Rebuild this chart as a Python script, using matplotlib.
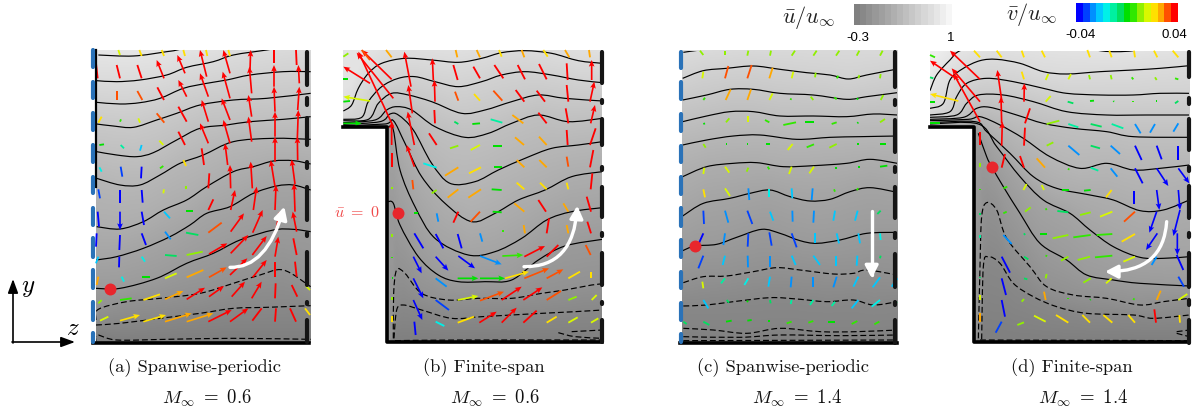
import numpy as np
import matplotlib
matplotlib.use("Agg")
import matplotlib.pyplot as plt
from matplotlib.colors import ListedColormap, LinearSegmentedColormap, Normalize
from matplotlib.cm import ScalarMappable
from matplotlib.patches import FancyArrowPatch, PathPatch, Rectangle
from matplotlib.path import Path

W, H = 1193, 412
plt.rcParams['mathtext.fontset'] = 'cm'

# every panel is read in its own coordinates: 3 units = 1 image pixel
crop_a = (0, 30, 320, 382)
crop_b = (325, 30, 300, 382)
crop_c = (640, 0, 280, 412)
crop_d = (900, 0, 293, 412)

# u contours, top to bottom
levels_a = [0.8, 0.7, 0.6, 0.5, 0.4, 0.3, 0.2, 0.1, 0.0, -0.1, -0.2, -0.3]
lines_a = [
    [(295,75),(400,78),(500,65),(540,58),(700,20),(932,0)],
    [(290,152),(350,155),(420,150),(500,135),(560,112),(640,95),(700,75),(800,60),(830,55),(932,40)],
    [(290,217),(360,222),(420,218),(480,205),(550,175),(620,160),(680,150),(750,135),(850,125),(932,125)],
    [(290,282),(340,288),(400,292),(470,270),(530,250),(600,225),(700,210),(800,205),(932,190)],
    [(290,365),(350,375),(410,380),(460,368),(530,330),(600,295),(680,285),(750,275),(850,268),(932,260)],
    [(290,445),(360,465),(420,465),(480,435),(540,400),(610,375),(700,335),(820,325),(932,328)],
    [(290,590),(360,597),(430,575),(490,540),(560,510),(620,470),(700,425),(760,410),(820,393),(880,392),(932,402)],
    [(288,690),(350,680),(430,655),(510,620),(570,585),(620,550),(690,530),(760,490),(830,468),(880,465),(932,480)],
    [(288,775),(360,775),(470,745),(560,700),(640,670),(720,630),(820,600),(880,598),(932,605)],
    [(288,870),(295,838),(380,815),(480,805),(600,790),(700,760),(780,735),(850,720),(932,770)],
    [(288,885),(360,880),(480,865),(600,850),(700,835),(800,832),(932,827)],
    [(288,935),(292,915),(350,930),(500,928),(700,925),(932,928)],
]
levels_b = [0.7, 0.6, 0.5, 0.4, 0.3, 0.2, 0.1, 0.0, -0.1, -0.2, -0.3]
lines_b = [
    [(55,243),(80,225),(100,175),(130,130),(170,100),(240,85),(320,90),(400,97),(470,85),(530,68),(600,62),(680,70),(760,92),(832,100)],
    [(55,268),(110,262),(130,215),(170,170),(220,145),(270,140),(330,155),(400,170),(470,155),(530,135),(600,125),(680,135),(760,150),(832,158)],
    [(55,272),(130,268),(160,220),(200,190),(250,195),(320,215),(410,250),(480,240),(560,215),(640,195),(720,205),(832,213)],
    [(55,278),(150,270),(185,240),(215,230),(260,240),(330,290),(420,322),(490,310),(560,280),(640,255),(730,275),(832,265)],
    [(55,283),(165,275),(195,252),(220,255),(265,300),(320,400),(375,460),(450,455),(520,420),(600,385),(680,355),(760,345),(832,335)],
    [(55,287),(180,282),(205,272),(240,340),(290,440),(360,520),(440,575),(510,550),(580,510),(660,480),(740,440),(832,425)],
    [(190,290),(205,300),(225,420),(270,530),(330,625),(430,675),(510,665),(590,625),(665,570),(740,545),(832,533)],
    [(188,515),(205,520),(225,585),(280,680),(340,735),(400,755),(480,755),(560,750),(640,690),(720,648),(832,628)],
    [(205,925),(206,790),(215,720),(240,730),(290,790),(370,810),(460,805),(560,805),(650,790),(720,780),(800,765),(832,762)],
    [(207,925),(215,840),(235,825),(290,840),(380,865),(470,860),(560,855),(650,850),(750,845),(832,840)],
    [(210,932),(400,930),(832,930)],
]
extra_b = [[(700,908),(750,920),(832,925)], [(740,905),(832,900)]]
levels_c = [0.7, 0.6, 0.5, 0.4, 0.3, 0.2, 0.1, 0.0, -0.1, -0.2, -0.25, -0.28, -0.3]
lines_c = [
    [(130,157),(180,150),(300,135),(772,135)],
    [(128,235),(190,212),(260,205),(340,198),(420,208),(500,218),(570,225),(625,237),(680,225),(772,207)],
    [(128,300),(200,285),(270,268),(340,268),(420,280),(520,285),(620,298),(680,290),(772,278)],
    [(128,365),(200,348),(270,335),(340,335),(420,348),(520,348),(620,350),(700,342),(772,345)],
    [(128,435),(200,420),(280,408),(360,405),(470,418),(570,412),(660,410),(772,408)],
    [(128,530),(200,500),(280,490),(350,488),(430,500),(520,497),(620,490),(690,478),(772,490)],
    [(128,648),(190,610),(270,595),(330,580),(390,570),(450,590),(510,603),(570,598),(630,575),(690,563),(772,577)],
    [(128,752),(165,738),(230,733),(290,712),(365,688),(420,700),(480,722),(530,730),(600,720),(680,700),(772,697)],
    [(130,848),(190,830),(260,828),(340,815),(410,803),(480,810),(580,822),(640,820),(680,810),(772,825)],
    [(130,918),(200,915),(280,905),(390,893),(470,897),(560,905),(640,900),(700,915),(772,905)],
    [(130,985),(220,990),(320,1000),(420,985),(540,995),(650,995),(772,990)],
    [(130,1010),(300,1012),(420,1005),(600,1007),(772,1005)],
    [(130,1022),(772,1020)],
]
levels_d = [0.8, 0.7, 0.6, 0.5, 0.4, 0.3, 0.2, 0.1, 0.0, -0.1, -0.2, -0.3]
lines_d = [
    [(90,272),(110,225),(150,180),(185,150),(300,120),(500,135),(600,152),(650,155),(700,152),(760,140),(868,130)],
    [(90,325),(130,310),(150,240),(190,205),(240,182),(290,178),(360,190),(430,215),(500,222),(600,215),(700,210),(780,205),(868,197)],
    [(90,345),(150,335),(170,290),(200,250),(260,235),(340,245),(430,265),(500,280),(600,285),(700,285),(780,280),(868,280)],
    [(90,352),(170,345),(200,310),(235,285),(310,285),(400,305),(500,335),(620,345),(740,345),(868,345)],
    [(90,358),(190,352),(230,325),(270,322),(350,345),(430,370),(520,385),(620,395),(700,410),(868,412)],
    [(90,362),(205,358),(240,350),(300,375),(370,415),(450,470),(540,505),(620,490),(700,510),(780,505),(868,495)],
    [(90,368),(225,365),(260,395),(330,460),(400,530),(470,565),(570,585),(640,600),(720,632),(790,630),(868,600)],
    [(90,372),(235,372),(290,440),(360,530),(430,600),(510,640),(570,690),(640,740),(720,772),(790,775),(868,770)],
    [(235,400),(260,470),(275,500),(310,560),(360,640),(420,730),(500,780),(560,825),(640,840),(720,850),(868,858)],
    [(235,1015),(240,800),(245,650),(260,608),(290,630),(320,715),(390,800),(440,860),(520,885),(620,895),(720,915),(790,905),(868,895)],
    [(245,1018),(250,800),(265,770),(300,790),(340,850),(400,890),(470,920),(560,940),(700,945),(760,955),(868,945)],
    [(240,1020),(868,1022)],
]
extra_d = [[(830,995),(868,990)], [(830,1000),(868,1010)]]

# velocity vectors: tail x, tail y, tip x, tip y
arrows_a = [
    (300,872,325,860),(360,872,420,855),(430,875,498,855),(495,875,575,850),(560,875,640,850),(625,875,695,840),(690,875,745,835),(757,872,785,835),(825,875,828,835),(888,875,870,835),(930,855,915,835),
    (295,820,305,810),(360,810,395,805),(430,810,480,793),(495,808,550,783),(560,808,615,773),(627,800,672,768),(695,800,735,755),(755,805,785,755),(825,805,827,760),(892,800,875,765),(930,780,918,768),
    (290,765,295,740),(365,740,372,755),(425,742,450,742),(495,745,530,730),(560,742,610,720),(627,742,680,712),(690,735,742,685),(758,742,800,690),(825,742,825,695),(890,740,885,695),
    (295,680,288,700),(358,680,357,712),(425,680,435,695),(495,675,530,678),(560,675,608,665),(627,672,682,640),(692,670,745,615),(757,675,800,618),(825,680,835,620),(890,675,880,625),
    (290,610,288,650),(360,615,358,660),(425,610,438,645),(495,605,512,628),(558,608,595,615),(625,608,665,578),(692,605,732,550),(758,608,788,540),(827,608,838,545),(890,605,878,545),
    (293,545,297,590),(360,545,360,600),(425,545,432,585),(492,545,510,565),(558,543,578,543),(625,540,640,508),(692,540,705,480),(760,540,770,470),(825,540,828,465),(885,545,882,460),
    (295,478,300,505),(360,480,360,518),(425,480,428,518),(490,490,492,478),(558,478,558,468),(625,475,628,430),(692,475,690,405),(757,475,752,395),(825,470,812,390),(885,462,875,388),
    (298,412,305,425),(362,410,367,440),(425,410,423,445),(480,415,490,408),(558,408,550,390),(612,405,605,355),(683,405,675,340),(825,395,825,320),(893,390,892,320),
    (298,345,312,343),(362,345,372,355),(425,345,420,362),(490,345,478,332),(555,345,535,305),(625,340,600,280),(690,340,670,270),(755,335,745,260),(825,320,825,245),(892,325,895,240),
    (295,278,305,260),(360,275,363,268),(420,278,415,265),(493,278,470,250),(560,275,535,230),(625,275,605,210),(690,270,665,205),(755,260,745,195),(825,245,822,170),(893,240,898,170),
    (293,145,288,100),(352,210,352,183),(427,210,412,183),(492,210,472,172),(560,200,535,150),(625,200,600,130),(690,205,668,125),(755,190,748,110),(822,170,822,105),(898,160,895,105),
    (360,145,350,105),(425,145,412,105),(492,145,470,90),(555,130,532,75),(620,140,600,60),(690,130,670,60),(750,120,752,60),(822,100,822,60),(890,105,888,60),
    (360,75,355,60),(425,78,418,60),(492,78,485,60),(555,78,550,60),(622,78,618,60),(690,78,685,60),
]
arrows_b = [
    (205,290,100,65),(200,148,110,60),(205,205,95,68),(135,90,110,60),(135,160,55,110),(135,213,55,200),(55,148,70,148),(55,215,75,213),(55,80,70,70),(55,280,110,280),(200,82,183,60),
    (268,345,248,245),(262,250,250,165),(258,170,238,65),
    (200,345,200,275),(200,410,200,370),(200,478,200,470),(200,620,200,612),(200,685,200,680),(200,745,205,745),(200,810,200,800),(200,875,200,858),
    (268,410,245,345),(265,478,262,450),(268,550,280,550),(268,610,295,655),(265,680,290,730),(265,745,295,805),(265,810,292,870),(268,875,272,915),
    (330,280,328,240),(330,215,328,150),(325,150,322,85),(335,345,312,310),(295,400,335,413),(320,490,335,480),(335,550,340,575),(332,612,355,655),(332,680,370,722),(332,745,365,770),(332,810,372,840),(332,875,358,888),
    (397,82,392,60),(398,150,385,105),(400,212,390,185),(388,275,400,282),(375,355,400,347),(360,437,400,412),(368,503,400,478),(385,578,400,545),(398,612,410,655),(400,678,450,715),(398,745,460,745),(398,810,460,798),(398,878,447,860),
    (465,82,455,60),(465,145,445,110),(465,212,447,192),(442,282,465,280),(437,360,465,345),(432,430,468,412),(430,503,468,478),(437,575,465,545),(465,610,472,635),(465,678,530,703),(465,745,540,745),(465,812,537,785),(463,878,515,845),
    (530,80,522,60),(535,145,508,105),(532,212,505,182),(497,268,532,278),(505,347,532,347),(508,412,530,412),(500,478,530,480),(503,545,530,547),(533,605,533,600),(532,678,595,675),(540,745,612,725),(530,810,590,770),(530,878,575,833),
    (598,82,590,60),(600,148,578,105),(598,215,572,180),(595,280,562,255),(597,345,570,322),(598,412,575,390),(598,478,575,458),(598,545,568,520),(600,610,596,585),(598,680,660,648),(598,745,672,715),(595,810,652,772),(595,878,635,842),
    (668,80,655,60),(665,148,642,102),(660,215,635,182),(665,280,640,248),(665,345,642,320),(665,412,643,390),(665,478,645,458),(663,545,640,510),(665,610,672,565),(665,680,700,645),(665,745,715,718),(665,810,708,783),(665,878,695,860),
    (733,82,720,60),(728,150,725,100),(730,215,725,165),(730,280,722,235),(728,345,725,300),(730,410,725,380),(730,478,725,458),(730,545,715,520),(730,610,725,585),(730,745,765,725),(730,810,755,800),(730,878,758,862),
    (795,82,792,60),(800,150,800,90),(795,215,808,155),(797,280,810,225),(795,345,812,295),(795,412,805,360),(797,478,802,430),(798,545,785,500),(798,610,787,575),(797,675,782,645),(798,745,798,725),(800,810,815,795),(798,878,820,865),
]
arrows_c = [
    (190,165,180,152),(255,165,255,152),(322,167,325,152),(390,167,393,152),(455,167,465,152),(520,167,530,152),(588,167,598,152),(650,167,658,152),(720,167,728,152),
    (187,235,190,215),(255,235,265,198),(322,235,335,195),(388,235,398,203),(455,235,460,215),(525,232,527,218),(590,235,595,227),(655,235,658,225),(720,235,722,222),
    (190,300,195,293),(257,300,272,268),(322,300,333,268),(388,300,398,280),(452,300,453,295),(520,300,512,290),(590,298,583,292),(650,298,655,295),(722,300,730,285),
    (190,372,195,370),(258,367,268,355),(323,367,323,347),(388,367,375,360),(430,375,468,367),(495,367,522,367),(575,372,590,367),(652,370,655,367),(720,367,735,357),
    (197,443,190,432),(258,433,262,433),(322,433,324,433),(378,433,390,433),(443,450,458,432),(500,442,522,433),(568,443,590,432),(652,433,656,433),(720,433,737,433),
    (190,522,193,503),(268,518,255,500),(320,515,325,503),(388,508,383,500),(447,522,455,500),(508,520,522,500),(585,505,590,505),(655,500,660,500),(720,500,742,497),
    (195,592,190,568),(270,588,255,565),(325,565,328,600),(388,568,388,590),(455,565,457,595),(518,565,515,600),(585,575,582,568),(650,570,655,565),
    (190,632,192,672),(255,632,265,668),(322,632,337,672),(390,635,400,662),(457,632,458,665),(522,632,520,668),(585,632,580,662),(653,632,645,662),(722,632,712,642),
    (190,700,170,745),(255,700,250,735),(325,700,323,740),(388,697,395,737),(455,700,470,742),(525,700,525,730),(590,700,597,730),(655,700,660,730),(720,700,722,720),
    (190,767,175,805),(255,767,248,795),(323,767,324,802),(390,767,390,802),(455,767,467,795),(520,767,540,795),(587,767,587,797),(652,767,650,797),(722,767,720,775),
    (190,865,187,845),(255,835,243,850),(325,835,313,855),(390,830,385,860),(455,830,452,862),(520,830,520,862),(590,830,580,862),(655,830,640,860),(720,832,698,862),(772,835,755,860),
    (190,900,205,925),(260,900,267,908),(325,905,320,903),(390,900,392,910),(455,900,452,912),(520,900,510,915),(585,905,575,918),(655,900,635,925),(720,900,695,920),(770,905,765,915),
    (130,965,140,972),(190,965,208,975),(258,965,275,962),(322,962,335,960),(385,962,390,962),(440,970,455,965),(505,968,520,963),(565,966,585,966),(635,972,652,963),(703,973,718,965),
]
arrows_d = [
    (175,240,90,182),(240,238,150,152),(240,305,155,205),(240,365,160,220),(175,303,90,282),(90,232,100,235),(90,305,105,305),(105,172,90,165),(90,368,120,368),
    (240,435,240,395),(240,500,240,488),(240,570,240,567),(240,640,240,645),(240,705,240,715),(240,770,240,772),(240,830,240,833),(240,900,240,885),(240,965,240,940),
    (240,172,222,152),(305,172,290,152),(305,300,292,210),(305,370,303,290),(305,437,307,365),(305,503,315,462),(310,565,322,560),(310,640,320,635),(310,705,335,732),(305,770,330,818),(305,835,318,885),(305,900,315,950),(305,965,287,998),
    (372,172,365,152),(372,238,365,215),(372,305,373,250),(375,370,390,325),(372,437,375,383),(372,503,360,468),(370,570,380,552),(375,635,392,622),(372,700,375,705),(372,770,385,778),(372,835,382,838),(365,905,372,897),(352,975,372,967),
    (435,172,425,152),(437,240,445,222),(437,305,452,288),(440,372,478,362),(440,437,460,427),(435,503,410,475),(432,570,425,555),(440,630,437,625),(420,702,440,702),(438,770,440,765),(437,835,440,822),(437,900,432,875),(437,965,402,947),
    (505,238,513,222),(503,305,520,310),(505,372,535,382),(505,437,538,465),(505,510,507,505),(487,570,507,570),(472,633,505,637),(458,715,505,705),(483,782,505,770),(503,835,505,835),(505,898,505,893),(505,968,468,945),
    (570,172,562,150),(570,238,567,225),(570,303,582,302),(572,372,605,380),(572,437,600,445),(572,503,595,512),(552,572,572,570),(540,645,572,637),(520,712,572,705),(533,780,570,770),(550,848,572,835),(570,900,572,898),(570,968,547,945),
    (635,172,628,152),(635,238,632,225),(640,303,642,305),(635,372,670,385),(632,437,660,462),(632,505,652,530),(618,592,635,570),(600,650,637,635),(590,705,637,702),(585,772,637,767),(618,850,635,835),(637,968,610,945),
    (705,172,702,152),(700,238,695,232),(700,305,700,302),(705,372,722,400),(705,437,725,480),(705,505,728,550),(702,572,702,612),(672,665,705,635),(665,725,705,702),(670,785,705,770),(700,900,703,895),(705,968,685,945),
    (772,172,762,152),(770,240,765,232),(770,303,768,303),(765,372,750,398),(770,437,785,478),(770,505,805,558),(770,570,778,630),(770,635,748,698),(772,700,738,750),(770,770,755,795),(770,900,782,872),(768,968,763,928),
    (835,172,818,152),(835,238,825,235),(835,303,825,310),(835,370,820,395),(835,437,835,480),(835,505,868,550),(835,570,840,630),(840,630,820,708),(832,700,832,765),(830,765,850,810),(835,830,852,860),(835,900,862,882),(840,968,838,945),
]

# wall marks along the span: dash start, dash end
blue_a = [(60,110),(155,205),(250,300),(345,395),(440,490),(535,585),(625,680),(720,775),(815,870),(910,935)]
black_a = [(65,165),(205,225),(265,345),(395,415),(470,570),(610,618),(665,765),(815,822),(870,935)]
black_b = [(65,160),(210,218),(268,345),(410,420),(470,560),(610,618),(670,765),(815,822),(870,935)]
blue_c = [(155,205),(245,298),(342,392),(437,487),(530,583),(625,678),(720,770),(815,865),(908,960),(1002,1025)]
black_c = [(157,260),(300,315),(360,455),(500,515),(560,655),(700,715),(762,860),(905,915),(960,1030)]
black_d = [(155,230),(295,312),(358,450),(500,512),(557,655),(700,712),(760,860),(900,915),(960,1028)]

captions = ["(a) Spanwise-periodic", "(b) Finite-span", "(c) Spanwise-periodic", "(d) Finite-span"]
mach = ["0.6", "0.6", "1.4", "1.4"]
u_ticks = ["-0.3", "1"]
v_ticks = ["-0.04", "0.04"]
v_colors = ['#0000ff', '#0040ff', '#0090ff', '#00c8ff', '#00f0e8', '#00f0a0', '#00e060', '#00e000',
            '#30e800', '#90f000', '#d8f800', '#ffe000', '#ffa800', '#ff5000', '#ff0000']

vmap = ListedColormap(v_colors)
grey = LinearSegmentedColormap.from_list('g', ['#808080', '#f6f6f6'])
grey16 = ListedColormap(grey(np.linspace(0, 1, 16)))
u_norm = Normalize(-0.3, 1)
v_norm = Normalize(-0.04, 0.04)

fig = plt.figure(figsize=(W / 100, H / 100), dpi=100)


def make_field(lines, levels, xlim, ylim, step=None):
    xs = np.linspace(xlim[0], xlim[1], (xlim[1] - xlim[0]) // 2 + 1)
    ys = np.linspace(ylim[0], ylim[1], (ylim[1] - ylim[0]) // 2 + 1)
    z = np.zeros((len(ys), len(xs)))
    for i, x in enumerate(xs):
        yy, vv = [], []
        for line, lev in zip(lines, levels):
            lx = [p[0] for p in line]
            ly = [p[1] for p in line]
            if lx[0] - 10 <= x <= lx[-1] + 10:
                yy.append(np.interp(x, lx, ly))
                vv.append(lev)
        yy = np.array(yy)
        vv = np.array(vv)
        order = np.argsort(yy)
        yy, vv = yy[order], vv[order]
        yy = np.r_[yy[0] - 70, yy, ylim[1] + 1]
        vv = np.r_[vv[0] + 0.1, vv, vv[-1] - 0.02]
        z[:, i] = np.interp(ys, yy, vv)
    if step is not None:
        xx, yy = np.meshgrid(xs, ys)
        z = np.ma.masked_where((xx < step[0]) & (yy > step[1]), z)
    return z


def smooth_path(line):
    # bezier through the read points so the contours do not look like polygons
    p = np.array(line, dtype=float)
    q = np.vstack([p[0], p, p[-1]])
    verts = [p[0]]
    codes = [Path.MOVETO]
    for i in range(1, len(q) - 2):
        verts += [q[i] + (q[i + 1] - q[i - 1]) / 6, q[i + 1] - (q[i + 2] - q[i]) / 6, q[i + 1]]
        codes += [Path.CURVE4] * 3
    return Path(verts, codes)


def contour(ax, line, dashed, clip=None):
    patch = PathPatch(smooth_path(line), fc='none', ec='k', lw=0.85, ls=(0, (5, 2.5)) if dashed else '-', zorder=2)
    ax.add_patch(patch)
    if clip is not None:
        patch.set_clip_path(clip)


def draw_panel(crop, lines, levels, arrows, xlim, ylim, scale, step=None, extra=()):
    x0, y0, w, h = crop
    ax = fig.add_axes([x0 / W, 1 - (y0 + h) / H, w / W, h / H])
    ax.patch.set_alpha(0)
    ax.axis('off')
    z = make_field(lines, levels, xlim, ylim, step)
    ax.imshow(z, extent=(xlim[0], xlim[1], ylim[1], ylim[0]), cmap=grey, norm=u_norm,
              aspect='auto', interpolation='bilinear', zorder=1)
    ax.set_xlim(0, 3 * w)
    ax.set_ylim(3 * h, 0)
    clip = Rectangle((xlim[0], ylim[0]), xlim[1] - xlim[0], ylim[1] - ylim[0], transform=ax.transData)
    for line, lev in zip(lines, levels):
        contour(ax, line, lev < 0, clip)
    for line in extra:
        contour(ax, line, True)
    a = np.array(arrows, dtype=float)
    du = a[:, 2] - a[:, 0]
    dv = a[:, 3] - a[:, 1]
    v = -dv / scale * 0.04
    long_one = np.hypot(du, dv) >= 55
    ax.quiver(a[long_one, 0], a[long_one, 1], du[long_one], dv[long_one], v[long_one], cmap=vmap, norm=v_norm,
              angles='xy', scale_units='xy', scale=1, units='xy', width=5, headwidth=3.4, headlength=4.0,
              headaxislength=3.4, zorder=3)
    ax.quiver(a[~long_one, 0], a[~long_one, 1], du[~long_one], dv[~long_one], v[~long_one], cmap=vmap, norm=v_norm,
              angles='xy', scale_units='xy', scale=1, units='xy', width=5.5, headwidth=1, headlength=0,
              headaxislength=0, minlength=0, zorder=3)
    return ax


def wall(ax, x, dashes, color, lw=3.0):
    for a, b in dashes:
        ax.plot([x, x], [a, b], color=color, lw=lw, solid_capstyle='round', zorder=4)


def solid(ax, xs, ys, lw=2.6):
    ax.plot(xs, ys, color='k', lw=lw, solid_capstyle='projecting', zorder=4)


def white_arrow(ax, p0, ctrl, p1):
    if ctrl is None:
        path = Path([p0, p1], [Path.MOVETO, Path.LINETO])
    else:
        path = Path([p0, ctrl, p1], [Path.MOVETO, Path.CURVE3, Path.CURVE3])
    ax.add_patch(FancyArrowPatch(path=path, arrowstyle='-|>,head_length=5,head_width=2.6', color='white',
                                 lw=2.4, mutation_scale=1.5, shrinkA=0, shrinkB=0, zorder=5))


def dot(ax, x, y):
    ax.plot([x], [y], 'o', ms=8.6, color='#e8262c', mec='none', zorder=6)


ax = draw_panel(crop_a, lines_a, levels_a, arrows_a, (288, 932), (60, 938), 36)
solid(ax, [288, 288], [60, 470], lw=1.6)
solid(ax, [280, 926], [938, 938])
wall(ax, 279, blue_a, '#2a72b8')
wall(ax, 922, black_a, '#151515')
white_arrow(ax, (690, 712), (800, 715), (853, 530))
dot(ax, 330, 776)

ax = draw_panel(crop_b, lines_b, levels_b, arrows_b, (55, 832), (60, 938), 36, step=(185, 290), extra=extra_b)
solid(ax, [55, 185, 185, 832], [290, 290, 936, 936])
wall(ax, 830, black_b, '#151515')
white_arrow(ax, (597, 710), (745, 712), (757, 527))
dot(ax, 218, 550)

ax = draw_panel(crop_c, lines_c, levels_c, arrows_c, (125, 772), (152, 1030), 50)
solid(ax, [120, 770], [1030, 1030])
wall(ax, 122, blue_c, '#2a72b8')
wall(ax, 766, black_c, '#151515')
white_arrow(ax, (695, 633), None, (695, 835))
dot(ax, 165, 738)

ax = draw_panel(crop_d, lines_d, levels_d, arrows_d, (90, 868), (152, 1028), 40, step=(220, 380), extra=extra_d)
solid(ax, [90, 222, 222, 866], [380, 380, 1026, 1026])
wall(ax, 866, black_d, '#151515')
white_arrow(ax, (800, 665), (790, 815), (615, 815))
dot(ax, 275, 500)

# texts and key, in image pixels
ov = fig.add_axes([0, 0, 1, 1])
ov.patch.set_alpha(0)
ov.axis('off')
ov.set_xlim(0, W)
ov.set_ylim(H, 0)

for cx, mx, cap, m in zip([195, 484, 783, 1072], [207, 495, 797, 1083], captions, mach):
    ov.text(cx, 368, cap, family='cmr10', fontsize=13.3, ha='center', va='center', color='#111111')
    ov.text(mx, 398, r'$M_\infty\ =\ %s$' % m, fontsize=13.5, ha='center', va='center', color='#111111')

ov.text(357, 212, r'$\bar{u}\ =\ 0$', fontsize=11.5, color='#f04a4a', ha='center', va='center')
ov.text(809, 17, r'$\bar{u}/u_\infty$', fontsize=16, ha='center', va='center', color='#222222')
ov.text(1032, 14, r'$\bar{v}/u_\infty$', fontsize=16, ha='center', va='center', color='#222222')
ov.text(858, 38, u_ticks[0], family='Liberation Sans', fontsize=9.5, ha='center', va='center')
ov.text(951, 38, u_ticks[1], family='Liberation Sans', fontsize=9.5, ha='center', va='center')
ov.text(1081, 35, v_ticks[0], family='Liberation Sans', fontsize=9.5, ha='center', va='center')
ov.text(1174, 35, v_ticks[1], family='Liberation Sans', fontsize=9.5, ha='center', va='center')

ov.annotate('', xy=(13, 279), xytext=(13, 343), arrowprops=dict(arrowstyle='-|>,head_length=0.6,head_width=0.22', color='k', lw=1.2, shrinkA=0, shrinkB=0, mutation_scale=14))
ov.annotate('', xy=(75, 342), xytext=(12, 342), arrowprops=dict(arrowstyle='-|>,head_length=0.6,head_width=0.22', color='k', lw=1.2, shrinkA=0, shrinkB=0, mutation_scale=14))
ov.text(28, 287, r'$y$', fontsize=18, ha='center', va='center')
ov.text(73, 328, r'$z$', fontsize=18, ha='center', va='center')

for box, cmap, norm in [((854, 4, 98, 21), grey16, u_norm), ((1076, 3, 102, 19), vmap, v_norm)]:
    cax = fig.add_axes([box[0] / W, 1 - (box[1] + box[3]) / H, box[2] / W, box[3] / H])
    cb = fig.colorbar(ScalarMappable(norm=norm, cmap=cmap), cax=cax, orientation='horizontal')
    cb.outline.set_visible(False)
    cb.set_ticks([])

fig.savefig('out.png', dpi=100, facecolor='white')
